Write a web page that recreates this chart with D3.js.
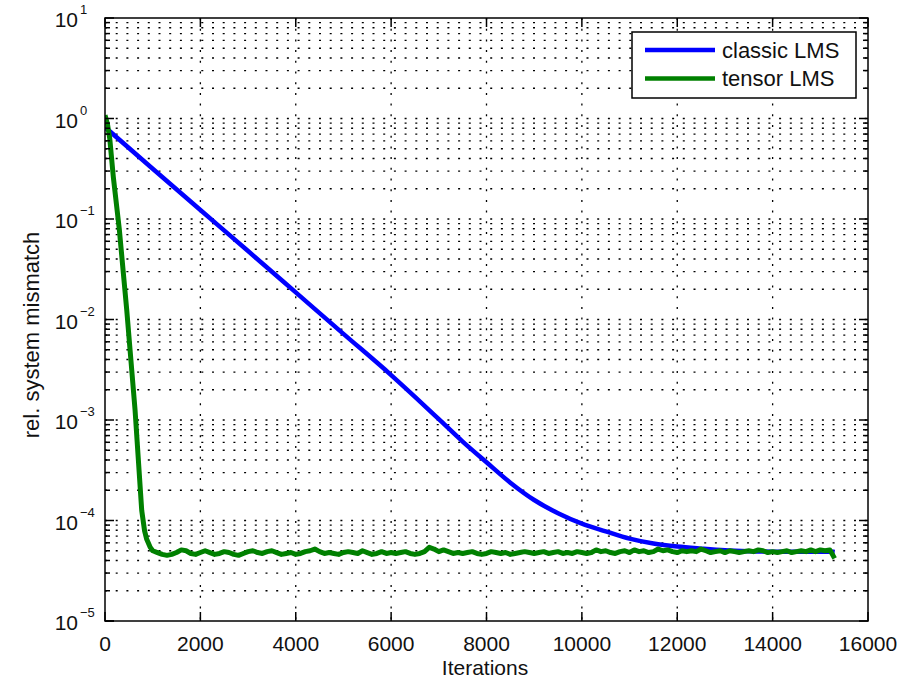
<!DOCTYPE html>
<html><head><meta charset="utf-8">
<script src="https://cdn.jsdelivr.net/npm/d3@7"></script>
<style>body{margin:0;background:#fff}svg{display:block}text{font-family:"Liberation Sans",Arial,Helvetica,sans-serif;fill:#111}</style>
</head><body>
<svg id="c" width="906" height="683"></svg>
<script>
// ---------------- data ----------------
const xTicks = [0, 2000, 4000, 6000, 8000, 10000, 12000, 14000, 16000];
const yExps = [-5, -4, -3, -2, -1, 0, 1];
const seriesNames = ["classic LMS", "tensor LMS"];
const seriesColors = ["#0000ff", "#008000"];

const classicIter = [0, 1000, 2000, 3000, 4000, 5000, 6000, 6500, 7000, 7500, 8000, 8500, 9000, 9500, 10000, 10500, 11000, 11500, 12000, 12500, 13000, 13500, 14000, 14500, 15000, 15300];
const classicVal  = [0.82, 0.316, 0.123, 0.048, 0.0186, 0.0072, 0.0028, 1.7e-3, 1.02e-3, 6.1e-4, 3.8e-4, 2.38e-4, 1.6e-4, 1.18e-4, 9.3e-5, 7.8e-5, 6.6e-5, 5.9e-5, 5.5e-5, 5.25e-5, 5.05e-5, 4.95e-5, 4.9e-5, 4.9e-5, 4.9e-5, 4.9e-5];

const tensorDropIter = [0, 50, 100, 175, 300, 455, 630, 770, 830, 875, 950, 1000];
const tensorDropVal  = [1.08, 0.89, 0.63, 0.26, 0.079, 0.0126, 0.00126, 1.26e-4, 7.9e-5, 6.5e-5, 5.4e-5, 5.0e-5];
// plateau sampled every 100 iterations from 1100 to 15300
const tensorPlateauStart = 1100, tensorPlateauStep = 100;
const tensorPlateauVal = [
 4.8e-5,4.6e-5,4.5e-5,4.6e-5,4.8e-5,5.1e-5,5.0e-5,4.7e-5,4.6e-5,4.8e-5,
 5.0e-5,4.8e-5,4.6e-5,4.7e-5,4.9e-5,4.8e-5,4.6e-5,4.5e-5,4.7e-5,4.9e-5,
 5.0e-5,4.8e-5,4.7e-5,4.9e-5,5.0e-5,4.8e-5,4.6e-5,4.7e-5,4.8e-5,4.6e-5,
 4.7e-5,4.9e-5,5.0e-5,5.2e-5,4.9e-5,4.7e-5,4.8e-5,4.7e-5,4.6e-5,4.8e-5,
 4.9e-5,4.8e-5,4.7e-5,5.0e-5,4.8e-5,4.6e-5,4.7e-5,4.9e-5,4.7e-5,4.8e-5,
 4.7e-5,4.8e-5,4.9e-5,4.7e-5,4.6e-5,4.7e-5,4.9e-5,5.4e-5,5.2e-5,4.9e-5,
 5.1e-5,4.9e-5,4.7e-5,4.8e-5,4.7e-5,4.8e-5,4.9e-5,4.7e-5,4.6e-5,4.7e-5,
 4.9e-5,4.8e-5,4.7e-5,4.8e-5,4.6e-5,4.7e-5,4.8e-5,4.9e-5,4.8e-5,4.7e-5,
 4.8e-5,4.9e-5,4.7e-5,4.8e-5,4.9e-5,4.7e-5,4.8e-5,4.7e-5,4.9e-5,4.8e-5,
 4.7e-5,4.8e-5,5.1e-5,4.9e-5,5.0e-5,4.8e-5,4.7e-5,4.9e-5,5.0e-5,4.8e-5,
 5.1e-5,4.9e-5,5.0e-5,4.8e-5,4.9e-5,5.2e-5,5.0e-5,5.1e-5,4.9e-5,4.8e-5,
 5.0e-5,4.9e-5,5.0e-5,4.9e-5,5.2e-5,5.0e-5,4.8e-5,4.9e-5,5.0e-5,4.8e-5,
 5.0e-5,4.9e-5,4.8e-5,4.9e-5,5.0e-5,4.9e-5,5.1e-5,5.0e-5,4.8e-5,4.9e-5,
 4.8e-5,4.9e-5,5.0e-5,4.8e-5,4.9e-5,5.0e-5,4.9e-5,5.1e-5,4.9e-5,5.1e-5,
 5.0e-5,5.1e-5,4.2e-5
];

// ---------------- layout ----------------
const L = 105, T = 18, R = 868, B = 621;
const svg = d3.select("#c");
const x = d3.scaleLinear().domain([0, 16000]).range([L, R]);
const y = d3.scaleLog().domain([1e-5, 10]).range([B, T]);

const classic = classicIter.map((it, i) => [it, classicVal[i]]);
const tensor = tensorDropIter.map((it, i) => [it, tensorDropVal[i]])
  .concat(tensorPlateauVal.map((v, i) => [tensorPlateauStart + i * tensorPlateauStep, v]));

// grid
const gridDash = "2,8.7";
const g = svg.append("g").attr("stroke", "#000").attr("stroke-width", 1.3).attr("stroke-dasharray", gridDash).attr("fill", "none");
const minorVals = [];
yExps.slice(0, -1).forEach(e => { for (let k = 1; k <= 9; k++) minorVals.push(k * Math.pow(10, e)); });
minorVals.push(10);
minorVals.forEach(v => {
  if (v <= 1e-5 * 1.0001 || v >= 10 * 0.9999) return;
  g.append("line").attr("x1", L).attr("x2", R).attr("y1", y(v)).attr("y2", y(v));
});
xTicks.slice(1, -1).forEach(t => g.append("line").attr("x1", x(t)).attr("x2", x(t)).attr("y1", T).attr("y2", B));

// lines
svg.append("clipPath").attr("id", "clip").append("rect").attr("x", L).attr("y", T).attr("width", R - L).attr("height", B - T);
const smooth = d3.line().x(d => x(d[0])).y(d => y(d[1])).curve(d3.curveMonotoneX);
const line = d3.line().x(d => x(d[0])).y(d => y(d[1]));
svg.append("path").datum(classic).attr("clip-path", "url(#clip)").attr("d", smooth)
  .attr("fill", "none").attr("stroke", seriesColors[0]).attr("stroke-width", 4.5).attr("stroke-linejoin", "round");
svg.append("path").datum(tensor).attr("clip-path", "url(#clip)").attr("d", line)
  .attr("fill", "none").attr("stroke", seriesColors[1]).attr("stroke-width", 5).attr("stroke-linejoin", "round");

// axes box & ticks
const ax = svg.append("g").attr("stroke", "#000").attr("stroke-width", 1.5);
ax.append("rect").attr("x", L).attr("y", T).attr("width", R - L).attr("height", B - T).attr("fill", "none");
xTicks.forEach(t => {
  ax.append("line").attr("x1", x(t)).attr("x2", x(t)).attr("y1", B).attr("y2", B - 9);
  ax.append("line").attr("x1", x(t)).attr("x2", x(t)).attr("y1", T).attr("y2", T + 9);
});
minorVals.forEach(v => {
  const major = Math.abs(Math.log10(v) - Math.round(Math.log10(v))) < 1e-9;
  const len = major ? 9 : 5;
  ax.append("line").attr("x1", L).attr("x2", L + len).attr("y1", y(v)).attr("y2", y(v));
  ax.append("line").attr("x1", R).attr("x2", R - len).attr("y1", y(v)).attr("y2", y(v));
});
ax.append("line").attr("x1", L).attr("x2", L + 9).attr("y1", y(1e-5)).attr("y2", y(1e-5));

// tick labels
xTicks.forEach(t => svg.append("text").attr("x", x(t)).attr("y", 651).attr("text-anchor", "middle")
  .attr("font-size", 21).text(t));
yExps.forEach(e => {
  const yy = y(Math.pow(10, e));
  svg.append("text").attr("x", 78).attr("y", yy + 9).attr("text-anchor", "end").attr("font-size", 21).text("10");
  svg.append("text").attr("x", 80).attr("y", yy - 4).attr("text-anchor", "start").attr("font-size", 13)
    .text(e < 0 ? "\u2212" + Math.abs(e) : String(e));
});

// axis titles
svg.append("text").attr("x", 485).attr("y", 675).attr("text-anchor", "middle").attr("font-size", 21).text("Iterations");
svg.append("text").attr("transform", "translate(39,335) rotate(-90)").attr("text-anchor", "middle")
  .attr("font-size", 22).text("rel. system mismatch");

// legend
const lg = svg.append("g");
lg.append("rect").attr("x", 632).attr("y", 32).attr("width", 224).attr("height", 66)
  .attr("fill", "#fff").attr("stroke", "#000").attr("stroke-width", 1.5);
seriesNames.forEach((n, i) => {
  const yy = 50 + i * 28.5;
  lg.append("line").attr("x1", 645).attr("x2", 715).attr("y1", yy).attr("y2", yy)
    .attr("stroke", seriesColors[i]).attr("stroke-width", 4.5);
  lg.append("text").attr("x", 722).attr("y", yy + 7.5).attr("font-size", 22).text(n);
});
</script>
</body></html>
